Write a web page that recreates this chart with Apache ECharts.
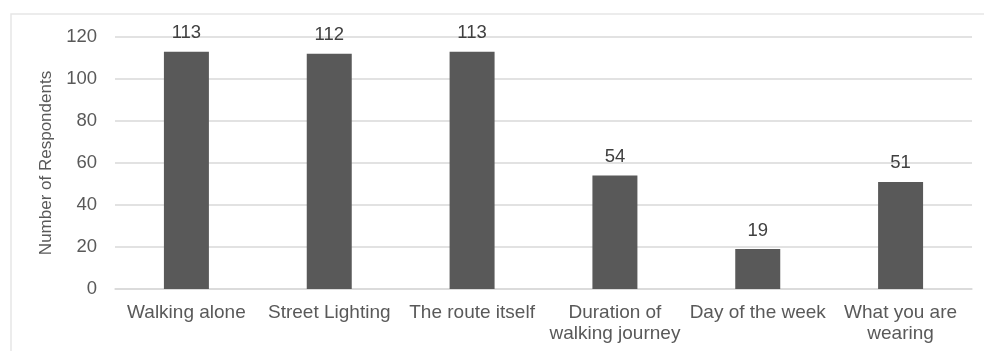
<!DOCTYPE html>
<html>
<head>
<meta charset="utf-8">
<script src="https://cdn.jsdelivr.net/npm/echarts@6/dist/echarts.min.js"></script>
<style>
  html, body { margin: 0; padding: 0; background: #fff; }
  #chart { width: 984px; height: 351px; }
</style>
</head>
<body>
<div id="chart"></div>
<script>
// Factors respondents reported as affecting how safe they feel
const categories = [
  'Walking alone',
  'Street Lighting',
  'The route itself',
  'Duration of\nwalking journey',
  'Day of the week',
  'What you are\nwearing'
];
const respondents = [113, 112, 113, 54, 19, 51];
const yTicks = [0, 20, 40, 60, 80, 100, 120];

const chart = echarts.init(document.getElementById('chart'), null, { renderer: 'canvas' });
const font = 'Helvetica, "Liberation Sans", Arial, sans-serif';

chart.setOption({
  animation: false,
  backgroundColor: '#ffffff',
  graphic: [{
    type: 'rect',
    shape: { x: 11, y: 14, width: 990, height: 360 },
    style: { fill: 'none', stroke: '#e6e6e6', lineWidth: 1.5 },
    silent: true
  }],
  grid: { left: 115, right: 12, top: 37, bottom: 62 },
  xAxis: {
    type: 'category',
    data: categories,
    axisLine: { show: true, lineStyle: { color: '#d9d9d9', width: 1.5 } },
    axisTick: { show: false },
    axisLabel: {
      color: '#595959', fontSize: 19, fontFamily: font,
      margin: 13, lineHeight: 21, interval: 0
    }
  },
  yAxis: {
    type: 'value',
    min: yTicks[0],
    max: yTicks[yTicks.length - 1],
    interval: 20,
    name: 'Number of Respondents',
    nameLocation: 'middle',
    nameRotate: 90,
    nameGap: 58,
    nameTextStyle: { color: '#595959', fontSize: 17, fontFamily: font },
    axisLine: { show: false },
    axisTick: { show: false },
    axisLabel: { color: '#595959', fontSize: 18.5, fontFamily: font, margin: 18 },
    splitLine: { lineStyle: { color: '#d9d9d9', width: 1.5 } }
  },
  series: [{
    type: 'bar',
    data: respondents,
    barWidth: '31.5%',
    itemStyle: { color: '#595959' },
    label: {
      show: true, position: 'top', distance: 9,
      color: '#404040', fontSize: 18.5, fontFamily: font
    }
  }]
});
</script>
</body>
</html>
